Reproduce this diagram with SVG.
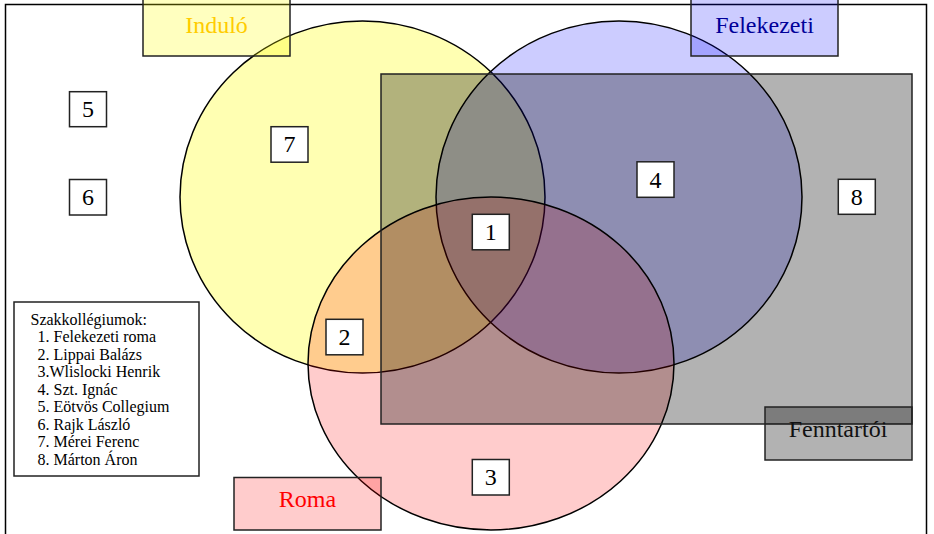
<svg xmlns="http://www.w3.org/2000/svg" width="934" height="534" viewBox="0 0 934 534">
<style>
.t{font-family:"Liberation Serif","Times New Roman",serif;}
.lbl{font-size:24px;text-anchor:middle;}
.num{font-size:24px;text-anchor:middle;fill:#000;}
.nb{fill:#fff;stroke:#222;stroke-width:1.5;}
.ell{stroke:#000;stroke-width:1.5;}
.lb{stroke:#222;stroke-width:1.5;}
.leg{font-size:16px;fill:#000;}
</style>
<rect width="934" height="534" fill="#fff"/>
<path d="M5.5,540 V4.5 H926.5 V540" fill="none" stroke="#000" stroke-width="1.5"/>
<g id="legend">
<rect x="14" y="302" width="185" height="174" fill="#fff" stroke="#222" stroke-width="1.5"/>
<text class="t leg" x="30.5" y="324.5">Szakkollégiumok:</text>
<text class="t leg" x="37.5" y="342">1. Felekezeti roma</text>
<text class="t leg" x="37.5" y="359.5">2. Lippai Balázs</text>
<text class="t leg" x="37.5" y="377">3.Wlislocki Henrik</text>
<text class="t leg" x="37.5" y="394.5">4. Szt. Ignác</text>
<text class="t leg" x="37.5" y="412">5. Eötvös Collegium</text>
<text class="t leg" x="37.5" y="429.5">6. Rajk László</text>
<text class="t leg" x="37.5" y="447">7. Mérei Ferenc</text>
<text class="t leg" x="37.5" y="464.5">8. Márton Áron</text>
</g>
<g id="set-indulo-circle"><ellipse class="ell" cx="362.5" cy="197" rx="182.5" ry="176" fill="#ffff00" fill-opacity="0.3"/></g>
<g id="set-felekezeti-circle"><ellipse class="ell" cx="619" cy="197" rx="183" ry="176" fill="#0000ff" fill-opacity="0.2"/></g>
<g id="set-roma-circle"><ellipse class="ell" cx="491" cy="363.5" rx="183" ry="166.5" fill="#ff0000" fill-opacity="0.2"/></g>
<g id="set-fenntartoi-rect"><rect x="381" y="74" width="531" height="350" fill="#000" fill-opacity="0.3" stroke="#222" stroke-width="1.5"/></g>
<g id="label-indulo">
<rect class="lb" x="143" y="-2" width="147" height="58" fill="#ffff00" fill-opacity="0.25"/>
<text class="t lbl" x="216.5" y="33.3" fill="#ffcc00">Induló</text>
</g>
<g id="label-felekezeti">
<rect class="lb" x="691" y="-2" width="147" height="58" fill="#0000ff" fill-opacity="0.2"/>
<text class="t lbl" x="764.5" y="33.3" fill="#000099">Felekezeti</text>
</g>
<g id="label-roma">
<rect class="lb" x="234" y="477.5" width="147" height="52.5" fill="#ff0000" fill-opacity="0.2"/>
<text class="t lbl" x="307.5" y="506.7" fill="#ff0000">Roma</text>
</g>
<g id="label-fenntartoi">
<rect class="lb" x="765" y="407" width="147" height="53" fill="#000" fill-opacity="0.3"/>
<text class="t lbl" x="838" y="436.7" fill="#111">Fenntartói</text>
</g>
<g id="n1"><rect class="nb" x="472.3" y="214.3" width="37" height="35.5"/><text class="t num" x="490.8" y="240">1</text></g>
<g id="n2"><rect class="nb" x="326" y="319.3" width="37" height="35.5"/><text class="t num" x="344.5" y="345">2</text></g>
<g id="n3"><rect class="nb" x="472.3" y="459.5" width="37" height="35.5"/><text class="t num" x="490.8" y="485.2">3</text></g>
<g id="n4"><rect class="nb" x="637" y="161.8" width="37" height="35.5"/><text class="t num" x="655.5" y="187.5">4</text></g>
<g id="n5"><rect class="nb" x="69.5" y="91.7" width="37" height="35"/><text class="t num" x="88" y="117.2">5</text></g>
<g id="n6"><rect class="nb" x="69.5" y="179.5" width="37" height="35.5"/><text class="t num" x="88" y="205.2">6</text></g>
<g id="n7"><rect class="nb" x="271" y="126.7" width="37" height="35.5"/><text class="t num" x="289.5" y="152.4">7</text></g>
<g id="n8"><rect class="nb" x="838.3" y="179.3" width="37" height="35"/><text class="t num" x="856.8" y="204.8">8</text></g>
</svg>
